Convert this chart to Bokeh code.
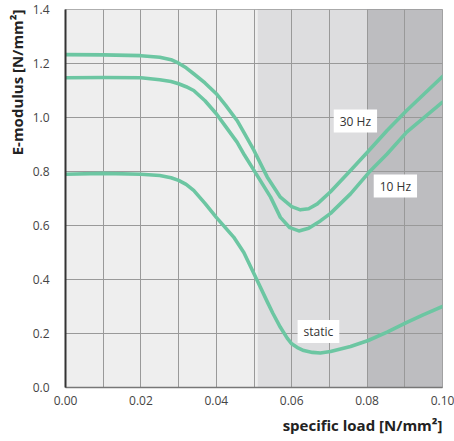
from bokeh.plotting import figure
from bokeh.models import FixedTicker, Label, Title, Range1d
from bokeh.embed import file_html
from bokeh.resources import INLINE

# ---- data ----
x_30hz = [0.000, 0.010, 0.020, 0.025, 0.028, 0.030, 0.032, 0.034, 0.037, 0.040, 0.0425,
          0.0455, 0.0475, 0.050, 0.0535, 0.0570, 0.0600, 0.0623, 0.0645, 0.0668, 0.0703,
          0.0756, 0.0805, 0.0853, 0.0905, 0.100]
y_30hz = [1.233, 1.232, 1.229, 1.223, 1.214, 1.201, 1.184, 1.162, 1.128, 1.088, 1.045,
          0.989, 0.940, 0.878, 0.780, 0.705, 0.670, 0.658, 0.662, 0.680, 0.725,
          0.804, 0.878, 0.952, 1.026, 1.152]

x_10hz = [0.000, 0.010, 0.020, 0.025, 0.028, 0.030, 0.032, 0.034, 0.037, 0.040, 0.0425,
          0.0455, 0.0475, 0.050, 0.0544, 0.0570, 0.0595, 0.0619, 0.0645, 0.0676, 0.0703,
          0.0756, 0.0805, 0.0853, 0.0905, 0.100]
y_10hz = [1.147, 1.148, 1.147, 1.140, 1.133, 1.125, 1.114, 1.100, 1.062, 1.014, 0.966,
          0.909, 0.860, 0.804, 0.705, 0.630, 0.592, 0.580, 0.590, 0.617, 0.645,
          0.717, 0.797, 0.865, 0.946, 1.057]

x_static = [0.000, 0.010, 0.020, 0.025, 0.028, 0.030, 0.032, 0.034, 0.037, 0.040, 0.0446,
            0.0473, 0.050, 0.0517, 0.0535, 0.0550, 0.0570, 0.0588, 0.0600, 0.0615, 0.0632,
            0.0655, 0.0676, 0.0703, 0.0756, 0.0803, 0.0853, 0.0904, 0.0950, 0.100]
y_static = [0.790, 0.793, 0.790, 0.785, 0.777, 0.767, 0.752, 0.730, 0.682, 0.630, 0.557,
            0.500, 0.421, 0.371, 0.318, 0.275, 0.223, 0.183, 0.162, 0.148, 0.137,
            0.130, 0.128, 0.133, 0.152, 0.174, 0.205, 0.240, 0.270, 0.300]

series_names = ["30 Hz", "10 Hz", "static"]
label_x = [0.0769, 0.0875, 0.0671]
label_y = [0.987, 0.746, 0.207]

zone_left = [0.000, 0.051, 0.080]
zone_right = [0.051, 0.080, 0.100]
zone_colors = ["#eeeeee", "#dddddf", "#bdbdc0"]

x_ticks = [0.00, 0.02, 0.04, 0.06, 0.08, 0.10]
x_grid = [0.00, 0.01, 0.02, 0.03, 0.04, 0.05, 0.06, 0.07, 0.08, 0.09, 0.10]
y_ticks = [0.0, 0.2, 0.4, 0.6, 0.8, 1.0, 1.2, 1.4]

FONT = "Open Sans"
LINE_COLOR = "#6cc6a2"

p = figure(frame_width=377, frame_height=378,
           x_range=Range1d(0, 0.10), y_range=Range1d(0, 1.4),
           output_backend="svg", toolbar_location=None,
           min_border_left=65, min_border_right=12, min_border_top=9, min_border_bottom=54)
p.background_fill_color = "#eeeeee"
p.border_fill_color = "white"
p.outline_line_color = "#999999"

p.quad(left=zone_left, right=zone_right, bottom=0, top=1.4,
       fill_color=zone_colors, line_color=None, level="image")

p.xgrid.ticker = FixedTicker(ticks=x_grid)
p.ygrid.ticker = FixedTicker(ticks=y_ticks)
for g in (p.xgrid, p.ygrid):
    g.grid_line_color = "#999999"
    g.grid_line_width = 1
    g.level = "underlay"

for xs, ys in ((x_30hz, y_30hz), (x_10hz, y_10hz), (x_static, y_static)):
    p.line(xs, ys, line_color=LINE_COLOR, line_width=3.6,
           line_join="round", line_cap="round")

for name, lx, ly in zip(series_names, label_x, label_y):
    p.add_layout(Label(x=lx, y=ly, text=name, text_align="center", text_baseline="middle",
                       text_font=FONT, text_font_size="12px", text_color="#333333",
                       background_fill_color="white",
                       padding=dict(left=6, right=6, top=3, bottom=3)))

p.xaxis.ticker = FixedTicker(ticks=x_ticks)
p.yaxis.ticker = FixedTicker(ticks=y_ticks)
p.xaxis.major_label_overrides = {t: f"{t:.2f}" for t in x_ticks}
p.yaxis.major_label_overrides = {t: f"{t:.1f}" for t in y_ticks}

for ax in (p.xaxis[0], p.yaxis[0]):
    ax.major_tick_line_color = None
    ax.minor_tick_line_color = None
    ax.major_tick_out = 0
    ax.major_tick_in = 0
    ax.major_label_text_font = FONT
    ax.major_label_text_font_size = "12px"
    ax.major_label_text_color = "#444444"
p.yaxis.axis_line_color = "#333333"
p.yaxis.axis_line_width = 2
p.xaxis.axis_line_color = "#777777"
p.xaxis.axis_line_width = 1.5
p.yaxis.major_label_standoff = 16
p.xaxis.major_label_standoff = 8

p.add_layout(Title(text="specific load [N/mm²]", align="right", text_font=FONT,
                   text_font_size="15px", text_font_style="bold", text_color="#222222",
                   standoff=11), "below")
p.add_layout(Title(text="E-modulus [N/mm²]", align="right", text_font=FONT,
                   text_font_size="15px", text_font_style="bold", text_color="#222222",
                   standoff=5), "left")

open("out.html", "w").write(file_html(p, INLINE))
